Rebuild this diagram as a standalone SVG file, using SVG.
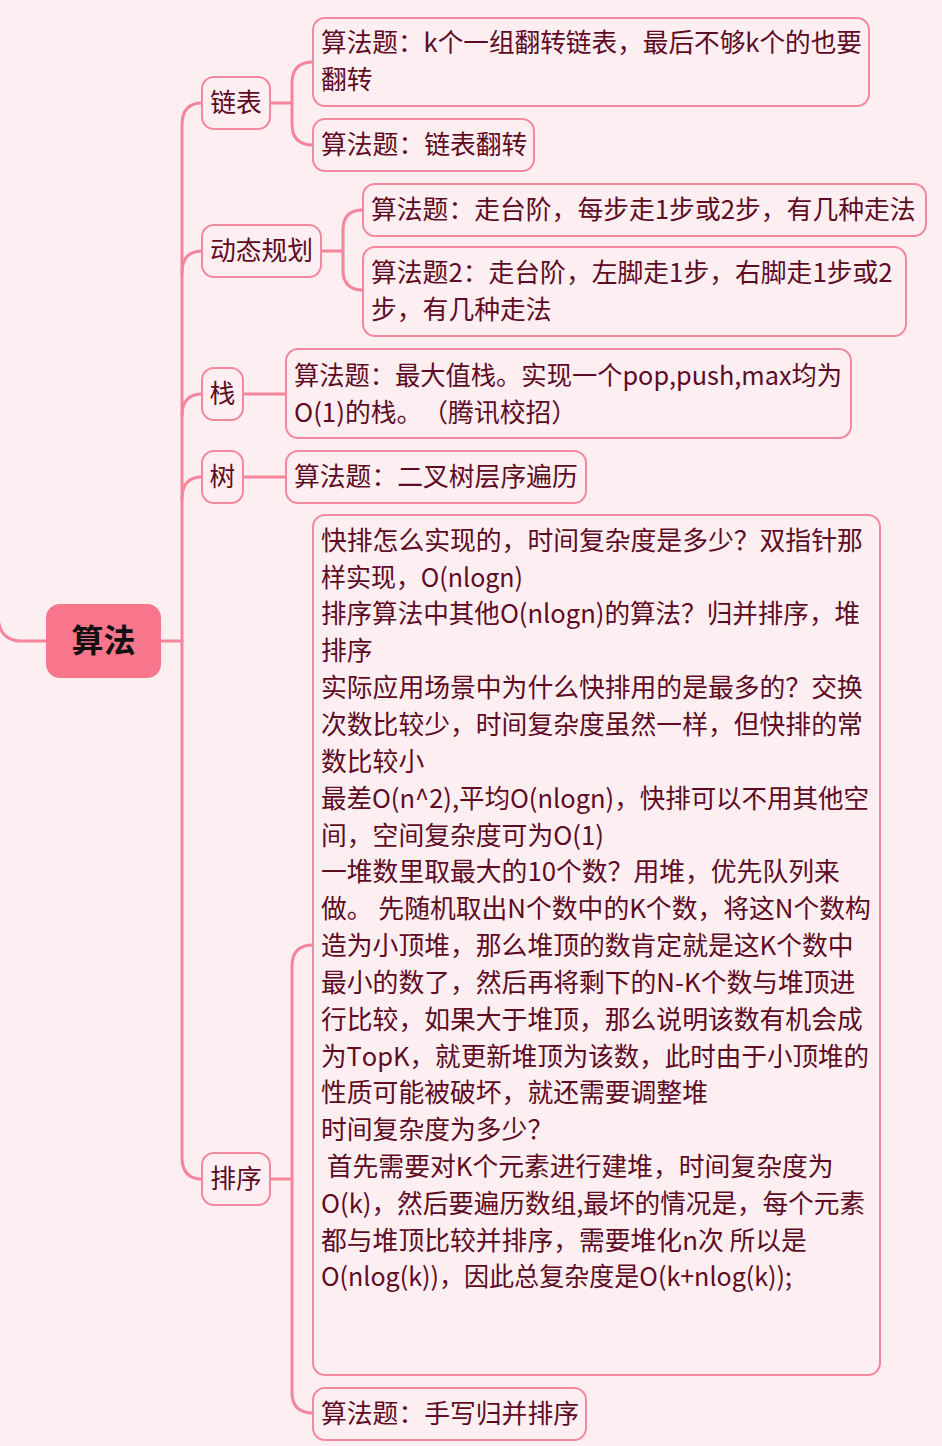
<svg xmlns="http://www.w3.org/2000/svg" width="942" height="1446" viewBox="0 0 942 1446">
<style>
.bg{fill:#fdeef1}
.box{fill:#fdeef1;stroke:#f4889e;stroke-width:2}
.root{fill:#f7768c;stroke:#f7768c;stroke-width:2}
.c{fill:none;stroke:#f4859b;stroke-width:3;stroke-linecap:round}
text{font-family:"Noto Sans CJK SC","Noto Sans",sans-serif;font-size:25.8px;fill:#5e0b24;text-spacing-trim:space-all;font-kerning:none}
.t{font-size:32px;font-weight:bold;fill:#111}
</style>
<rect class="bg" x="0" y="0" width="942" height="1446"/>
<g id="connectors">
<path class="c" d="M-2,618 Q0,641 22,641 L47,641"/>
<path class="c" d="M160,641 L182,641"/>
<path class="c" d="M202,103 Q182,103 182,125 L182,1157 Q182,1179 202,1179"/>
<path class="c" d="M182,273 Q182,251 202,251"/>
<path class="c" d="M182,416 Q182,394 202,394"/>
<path class="c" d="M182,499 Q182,477 202,477"/>
<path class="c" d="M270,103 L292,103"/>
<path class="c" d="M313,62 Q292,62 292,83 L292,124 Q292,145 313,145"/>
<path class="c" d="M321,251 L343,251"/>
<path class="c" d="M363,210 Q343,210 343,230 L343,270 Q343,290 363,290"/>
<path class="c" d="M243,394 L286,394"/>
<path class="c" d="M243,477 L286,477"/>
<path class="c" d="M270,1179 L292,1179"/>
<path class="c" d="M313,945 Q292,945 292,966 L292,1392 Q292,1413 313,1413"/>
</g>
<g id="root">
<rect class="root" x="47" y="605" width="113" height="72" rx="13"/>
<text class="t" x="103.5" y="652" text-anchor="middle">算法</text>
</g>
<g id="n-lianbiao">
<rect class="box" x="202" y="77" width="68" height="52" rx="12"/>
<text x="236" y="112" text-anchor="middle">链表</text>
</g>
<g id="n-lianbiao-1">
<rect class="box" x="313" y="18" width="556" height="88" rx="12"/>
<text x="321" y="52" textLength="541" lengthAdjust="spacingAndGlyphs">算法题：k个一组翻转链表，最后不够k个的也要</text>
<text x="321" y="89">翻转</text>
</g>
<g id="n-lianbiao-2">
<rect class="box" x="313" y="119" width="221" height="52" rx="12"/>
<text x="321" y="154">算法题：链表翻转</text>
</g>
<g id="n-dp">
<rect class="box" x="202" y="225" width="119" height="52" rx="12"/>
<text x="261.5" y="260" text-anchor="middle">动态规划</text>
</g>
<g id="n-dp-1">
<rect class="box" x="363" y="184" width="563" height="52" rx="12"/>
<text x="371" y="219">算法题：走台阶，每步走1步或2步，有几种走法</text>
</g>
<g id="n-dp-2">
<rect class="box" x="363" y="247" width="543" height="89" rx="12"/>
<text x="371" y="282">算法题2：走台阶，左脚走1步，右脚走1步或2</text>
<text x="371" y="319">步，有几种走法</text>
</g>
<g id="n-stack">
<rect class="box" x="202" y="368" width="41" height="52" rx="12"/>
<text x="222.5" y="403" text-anchor="middle">栈</text>
</g>
<g id="n-stack-1">
<rect class="box" x="286" y="349" width="565" height="89" rx="12"/>
<text x="294" y="385" textLength="548" lengthAdjust="spacingAndGlyphs">算法题：最大值栈。实现一个pop,push,max均为</text>
<text x="294" y="422">O(1)的栈。（腾讯校招）</text>
</g>
<g id="n-tree">
<rect class="box" x="202" y="451" width="41" height="52" rx="12"/>
<text x="222.5" y="486" text-anchor="middle">树</text>
</g>
<g id="n-tree-1">
<rect class="box" x="286" y="451" width="300" height="52" rx="12"/>
<text x="294" y="486">算法题：二叉树层序遍历</text>
</g>
<g id="n-sort">
<rect class="box" x="202" y="1153" width="68" height="52" rx="12"/>
<text x="236" y="1188" text-anchor="middle">排序</text>
</g>
<g id="n-sort-1">
<rect class="box" x="313" y="515" width="567" height="860" rx="12"/>
<text x="321" y="550">快排怎么实现的，时间复杂度是多少？双指针那</text>
<text x="321" y="587" textLength="202" lengthAdjust="spacingAndGlyphs">样实现，O(nlogn)</text>
<text x="321" y="623" textLength="539" lengthAdjust="spacingAndGlyphs">排序算法中其他O(nlogn)的算法？归并排序，堆</text>
<text x="321" y="660">排序</text>
<text x="321" y="697">实际应用场景中为什么快排用的是最多的？交换</text>
<text x="321" y="734">次数比较少，时间复杂度虽然一样，但快排的常</text>
<text x="321" y="771">数比较小</text>
<text x="321" y="808" textLength="548" lengthAdjust="spacingAndGlyphs">最差O(n^2),平均O(nlogn)，快排可以不用其他空</text>
<text x="321" y="845">间，空间复杂度可为O(1)</text>
<text x="321" y="881">一堆数里取最大的10个数？用堆，优先队列来</text>
<text x="321" y="918" xml:space="preserve">做。 先随机取出N个数中的K个数，将这N个数构</text>
<text x="321" y="955">造为小顶堆，那么堆顶的数肯定就是这K个数中</text>
<text x="321" y="992">最小的数了，然后再将剩下的N-K个数与堆顶进</text>
<text x="321" y="1029">行比较，如果大于堆顶，那么说明该数有机会成</text>
<text x="321" y="1066" textLength="548" lengthAdjust="spacingAndGlyphs">为TopK，就更新堆顶为该数，此时由于小顶堆的</text>
<text x="321" y="1102">性质可能被破坏，就还需要调整堆</text>
<text x="321" y="1139">时间复杂度为多少？</text>
<text x="321" y="1176" xml:space="preserve"> 首先需要对K个元素进行建堆，时间复杂度为</text>
<text x="321" y="1213" textLength="544" lengthAdjust="spacingAndGlyphs">O(k)，然后要遍历数组,最坏的情况是，每个元素</text>
<text x="321" y="1250" xml:space="preserve">都与堆顶比较并排序，需要堆化n次 所以是</text>
<text x="321" y="1286" textLength="471" lengthAdjust="spacingAndGlyphs">O(nlog(k))，因此总复杂度是O(k+nlog(k));</text>
</g>
<g id="n-sort-2">
<rect class="box" x="313" y="1388" width="273" height="52" rx="12"/>
<text x="321" y="1423">算法题：手写归并排序</text>
</g>
</svg>
